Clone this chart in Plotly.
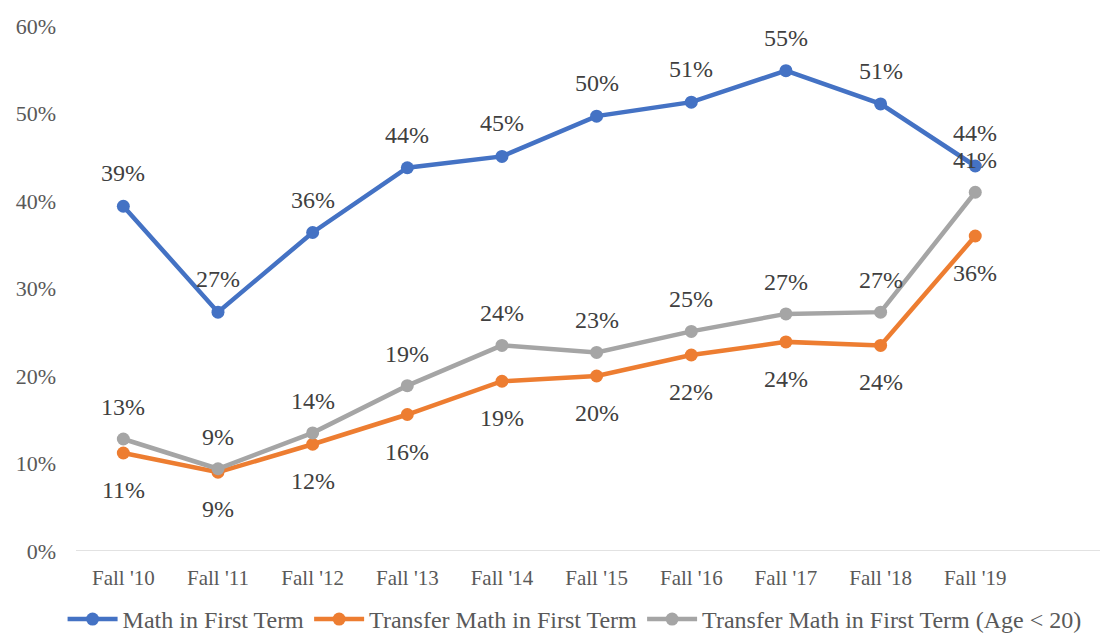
import plotly.graph_objects as go

# chart data
terms = ["Fall '10", "Fall '11", "Fall '12", "Fall '13", "Fall '14",
         "Fall '15", "Fall '16", "Fall '17", "Fall '18", "Fall '19"]
math_first = [39.4, 27.3, 36.4, 43.8, 45.1, 49.7, 51.3, 54.9, 51.1, 44.0]
transfer_math = [11.2, 9.0, 12.2, 15.6, 19.4, 20.0, 22.4, 23.9, 23.5, 36.0]
transfer_u20 = [12.8, 9.4, 13.5, 18.9, 23.5, 22.7, 25.1, 27.1, 27.3, 41.0]

series = [
    ("Math in First Term", math_first, "#4472C4", 33),
    ("Transfer Math in First Term", transfer_math, "#ED7D31", -37),
    ("Transfer Math in First Term (Age < 20)", transfer_u20, "#A5A5A5", 32),
]

FONT = "Liberation Serif"

fig = go.Figure()
annotations = []
for name, vals, color, shift in series:
    fig.add_trace(go.Scatter(
        x=terms, y=vals, name=name, mode="lines+markers",
        line=dict(color=color, width=4.5),
        marker=dict(color=color, size=13),
    ))
    for t, v in zip(terms, vals):
        annotations.append(dict(
            x=t, y=v, text=f"{round(v):.0f}%", showarrow=False,
            yshift=shift, font=dict(family=FONT, size=24, color="#404040"),
        ))

# page body has an 8px margin, so the figure is a bit smaller than the window
fig.update_layout(
    width=1100, height=634,
    margin=dict(l=68, r=4, t=18, b=91),
    plot_bgcolor="white", paper_bgcolor="white",
    font=dict(family=FONT, size=20, color="#595959"),
    annotations=annotations,
    showlegend=True,
    legend=dict(orientation="h", x=0.485, xanchor="center",
                yref="container", y=0.0, yanchor="bottom",
                font=dict(family=FONT, size=24, color="#595959"),
                itemwidth=50, tracegroupgap=0),
    xaxis=dict(
        type="category", range=[-0.5, 10.36], automargin=False,
        showgrid=False, showline=False, zeroline=False,
        ticks="", ticklabelstandoff=12,
        tickfont=dict(family=FONT, size=21, color="#595959"),
    ),
    yaxis=dict(
        range=[0, 60], dtick=10, ticksuffix="%", automargin=False,
        showgrid=False, zeroline=False, showline=False,
        ticklabelstandoff=19,
        tickfont=dict(family=FONT, size=22, color="#595959"),
    ),
    shapes=[dict(type="line", xref="paper", yref="y", x0=0, x1=1, y0=0, y1=0,
                 line=dict(color="#D9D9D9", width=1.5), layer="below")],
)

fig.write_html("out.html")
